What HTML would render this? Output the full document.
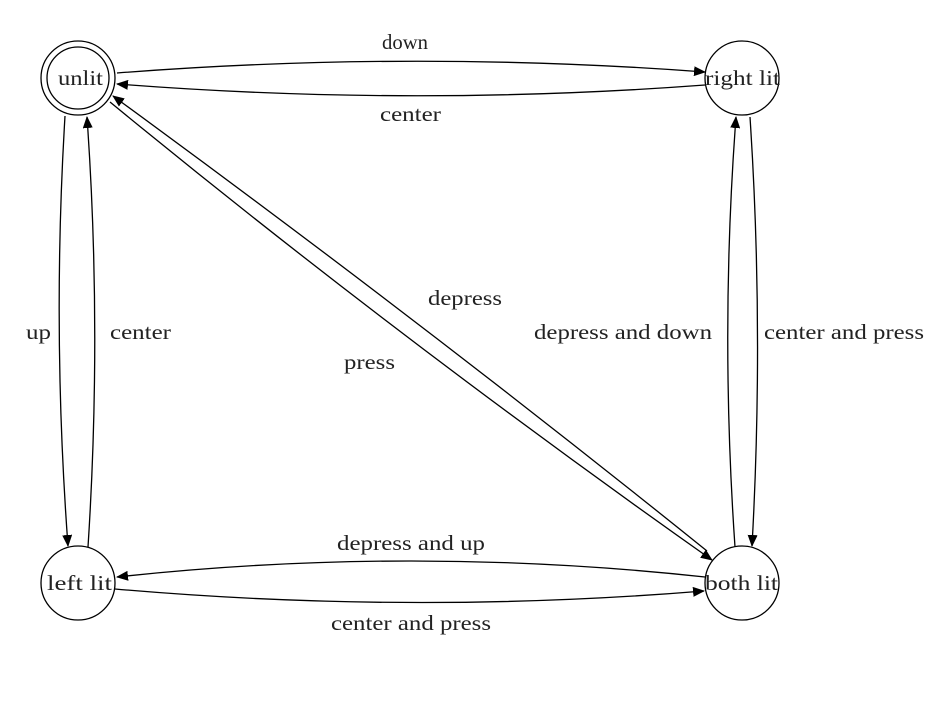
<!DOCTYPE html>
<html><head><meta charset="utf-8"><style>
html,body{margin:0;padding:0;background:#fff}
text{font-family:"Liberation Serif",serif;font-size:21px;fill:#222}
</style></head><body>
<svg width="938" height="722" viewBox="0 0 938 722" xmlns="http://www.w3.org/2000/svg">
<defs><marker id="a" markerWidth="12" markerHeight="10" refX="11" refY="5" orient="auto" markerUnits="userSpaceOnUse"><path d="M0,0 L12,5 L0,10 z" fill="#000"/></marker></defs>
<g fill="none" stroke="#000" stroke-width="1.3">
<circle cx="78" cy="78" r="37"/><circle cx="78" cy="78" r="31"/>
<circle cx="742" cy="78" r="37"/>
<circle cx="78" cy="583" r="37"/>
<circle cx="742" cy="583" r="37"/>
<path d="M117,73 Q411,50 705,72" marker-end="url(#a)"/>
<path d="M705,85 Q411,107 117,84" marker-end="url(#a)"/>
<path d="M65,116 Q52,330 68,546" marker-end="url(#a)"/>
<path d="M88,547 Q102,330 87,117" marker-end="url(#a)"/>
<path d="M110,102 Q400,340 712,560" marker-end="url(#a)"/>
<path d="M707,551 Q420,320 113,96" marker-end="url(#a)"/>
<path d="M750,117 Q764,330 752,546" marker-end="url(#a)"/>
<path d="M735,547 Q720,330 736,117" marker-end="url(#a)"/>
<path d="M705,577 Q411,545 117,577" marker-end="url(#a)"/>
<path d="M115,589 Q411,615 704,591" marker-end="url(#a)"/>
</g>
<text x="58" y="85" textLength="45" lengthAdjust="spacingAndGlyphs">unlit</text>
<text x="705" y="85" textLength="75" lengthAdjust="spacingAndGlyphs">right lit</text>
<text x="47" y="590" textLength="65" lengthAdjust="spacingAndGlyphs">left lit</text>
<text x="705" y="590" textLength="73" lengthAdjust="spacingAndGlyphs">both lit</text>
<text x="382" y="49" textLength="46" lengthAdjust="spacingAndGlyphs">down</text>
<text x="380" y="121" textLength="61" lengthAdjust="spacingAndGlyphs">center</text>
<text x="26" y="339" textLength="25" lengthAdjust="spacingAndGlyphs">up</text>
<text x="110" y="339" textLength="61" lengthAdjust="spacingAndGlyphs">center</text>
<text x="428" y="305" textLength="74" lengthAdjust="spacingAndGlyphs">depress</text>
<text x="344" y="369" textLength="51" lengthAdjust="spacingAndGlyphs">press</text>
<text x="534" y="339" textLength="178" lengthAdjust="spacingAndGlyphs">depress and down</text>
<text x="764" y="339" textLength="160" lengthAdjust="spacingAndGlyphs">center and press</text>
<text x="337" y="550" textLength="148" lengthAdjust="spacingAndGlyphs">depress and up</text>
<text x="331" y="630" textLength="160" lengthAdjust="spacingAndGlyphs">center and press</text>
</svg>
</body></html>
